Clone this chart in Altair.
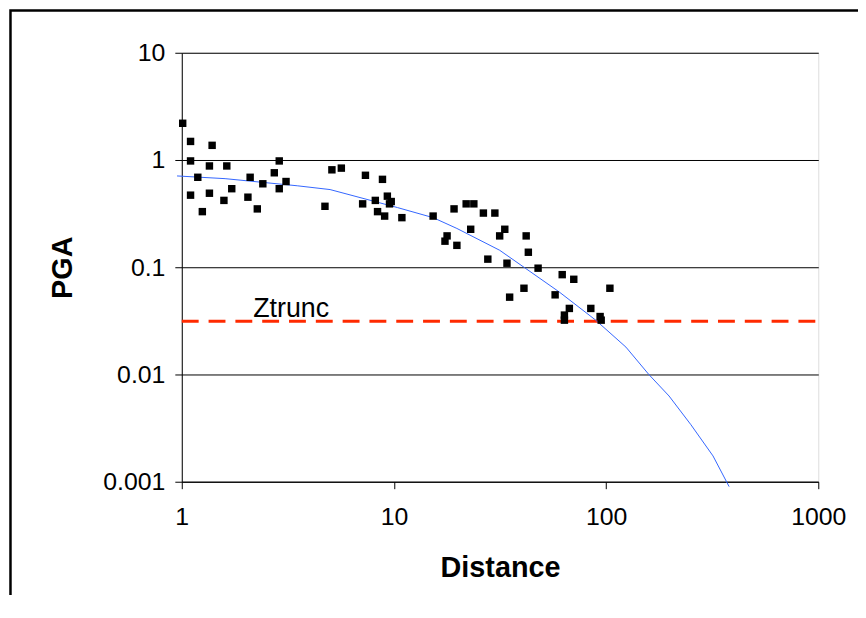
import altair as alt
import pandas as pd

# ---- data ----
dist = [1.01, 1.10, 1.10, 1.10, 1.19, 1.25, 1.35, 1.35, 1.39, 1.58, 1.63, 1.72,
        2.05, 2.10, 2.27, 2.41, 2.73, 2.88, 2.88, 3.10, 4.73, 5.10, 5.65, 7.12,
        7.34, 8.17, 8.37, 8.83, 9.04, 9.31, 9.53, 9.71, 10.9, 15.3, 17.4, 17.8,
        19.2, 19.8, 21.9, 23.8, 23.0, 26.4, 29.9, 27.7, 31.5, 33.3, 34.1, 35.1,
        41.0, 42.0, 43.0, 47.8, 57.5, 62.1, 63.6, 63.6, 67.1, 70.4, 84.7, 93.7,
        94.8, 104.2]
pga = [2.2, 1.49, 0.98, 0.47, 0.69, 0.33, 0.88, 0.49, 1.37, 0.42, 0.88, 0.54,
       0.45, 0.69, 0.35, 0.60, 0.76, 0.54, 0.98, 0.63, 0.37, 0.81, 0.84, 0.39,
       0.72, 0.42, 0.33, 0.66, 0.30, 0.46, 0.39, 0.41, 0.29, 0.30, 0.175, 0.196,
       0.35, 0.16, 0.39, 0.39, 0.226, 0.32, 0.32, 0.119, 0.196, 0.226, 0.109, 0.0526,
       0.0637, 0.196, 0.138, 0.098, 0.0553, 0.0853, 0.0358, 0.0321, 0.0413, 0.0772, 0.0413, 0.0347,
       0.0321, 0.0637]

curve_d = [0.95, 1.6, 3.5, 5.0, 10.4, 15.3, 19.8, 31.5, 41.3, 60.0, 89.0,
           124.0, 159.0, 198.0, 251.0, 319.0, 380.0]
curve_pga = [0.71, 0.67, 0.575, 0.53, 0.36, 0.29, 0.23, 0.144, 0.099, 0.059, 0.0323,
             0.018, 0.0100, 0.0063, 0.0034, 0.00174, 0.00090]

ztrunc = 0.0313
ztrunc_label = "Ztrunc"
ztrunc_label_x = 2.17

x_ticks = [1, 10, 100, 1000]
y_ticks = [0.001, 0.01, 0.1, 1, 10]
x_range = [1, 1000]
y_range = [0.001, 10]

FONT = "Liberation Sans"

pts_df = pd.DataFrame({"Distance": dist, "PGA": pga})
curve_df = pd.DataFrame({"Distance": curve_d, "PGA": curve_pga})
z_df = pd.DataFrame({"Distance": x_range, "PGA": [ztrunc, ztrunc]})
lab_df = pd.DataFrame({"Distance": [ztrunc_label_x], "PGA": [ztrunc], "text": [ztrunc_label]})
frame_df = pd.DataFrame({"k": [0]})

xscale = alt.Scale(type="log", domain=x_range, nice=False)
yscale = alt.Scale(type="log", domain=y_range, nice=False)

xaxis = alt.Axis(
    values=x_ticks, grid=False, labelExpr="format(datum.value, '~g')",
    title="Distance", titleFont=FONT, titleFontSize=29, titleFontWeight="bold",
    titleColor="black", titleY=95, titleBaseline="alphabetic",
    labelFont=FONT, labelFontSize=25, labelColor="black", labelPadding=16,
    tickSize=7, tickColor="black", domainColor="black", labelFlush=False,
)
yaxis = alt.Axis(
    values=y_ticks, grid=True, gridColor="black", gridWidth=1,
    labelExpr="format(datum.value, '~g')",
    title="PGA", titleFont=FONT, titleFontSize=29, titleFontWeight="bold",
    titleColor="black", titleX=-111, titleY=216, titleAngle=270,
    titleBaseline="alphabetic", titleAlign="center",
    labelFont=FONT, labelFontSize=25, labelColor="black", labelPadding=10,
    tickSize=7, tickColor="black", domainColor="black", labelFlush=False,
)

X = alt.X("Distance:Q", scale=xscale, axis=xaxis)
Y = alt.Y("PGA:Q", scale=yscale, axis=yaxis)

frame = alt.Chart(frame_df).mark_rect(fill=None, stroke="black", strokeWidth=2.5).encode(
    x=alt.value(-172.5), x2=alt.value(800), y=alt.value(-42.5), y2=alt.value(700)
)

zline = alt.Chart(z_df).mark_line(color="#FF2A00", strokeWidth=3, strokeDash=[17, 10]).encode(
    x=X, y=Y
)

curve = alt.Chart(curve_df).mark_line(color="#3366FF", strokeWidth=1).encode(
    x=X, y=Y, order=alt.Order("Distance:Q")
)

points = alt.Chart(pts_df).mark_square(color="black", size=56, opacity=1).encode(
    x=X, y=Y
)

label = alt.Chart(lab_df).mark_text(
    font=FONT, fontSize=27, color="black", align="left", baseline="alphabetic", dy=-4.5
).encode(x=X, y=Y, text="text:N")

chart = alt.layer(frame, zline, curve, points, label).properties(
    width=641, height=432,
    padding={"left": 175, "top": 43, "right": 40, "bottom": 112},
    autosize=alt.AutoSizeParams(type="none"),
).configure_view(stroke="#c0c0c0", strokeWidth=2).configure(background="white")

chart.save("out.html", embed_options={"renderer": "svg", "actions": False})
